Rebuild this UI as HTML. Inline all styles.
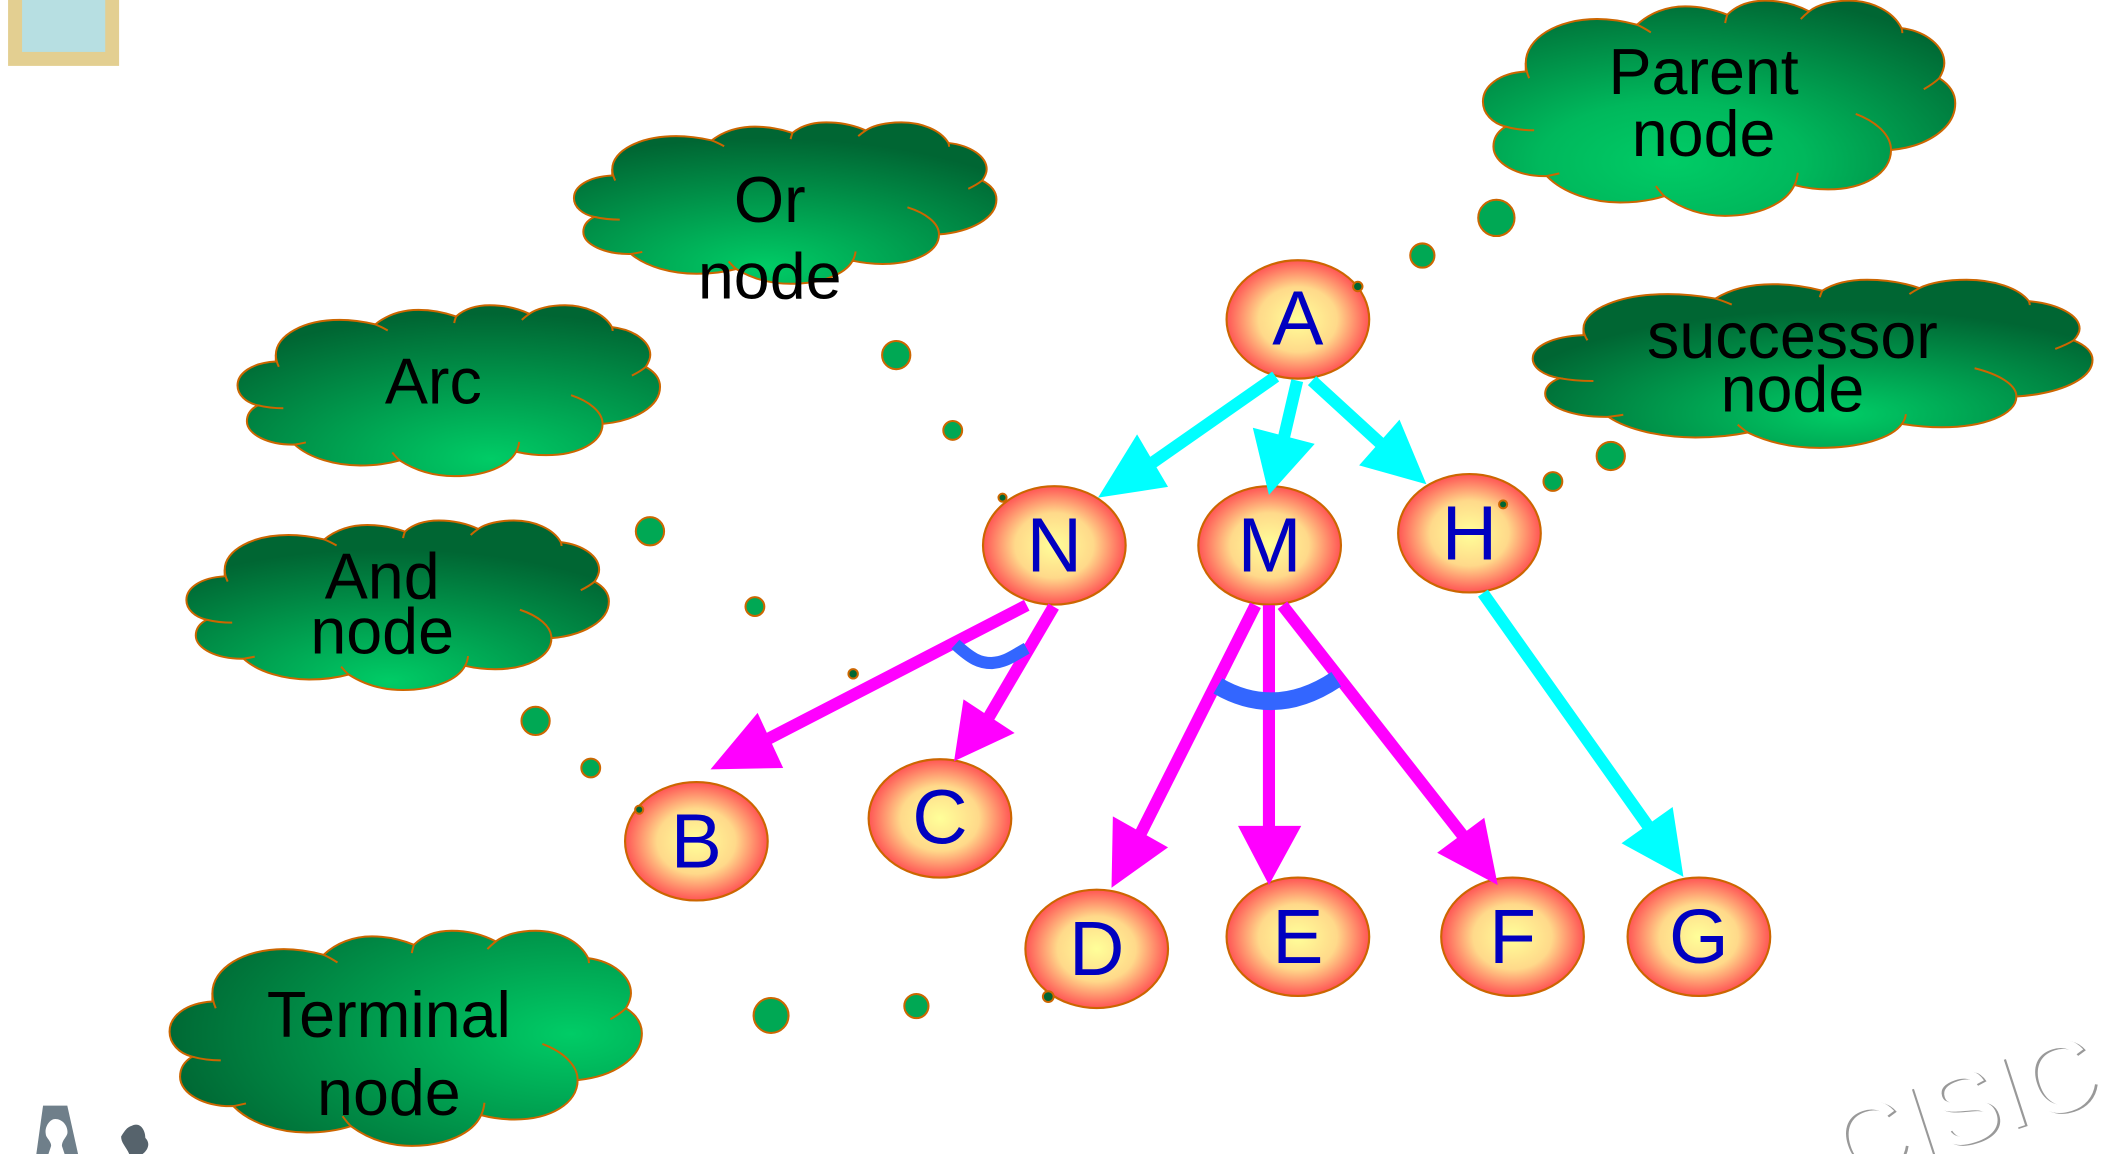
<!DOCTYPE html>
<html><head><meta charset="utf-8"><style>
html,body{margin:0;padding:0;background:#fff;width:2110px;height:1154px;overflow:hidden}
svg{display:block}
text{font-family:"Liberation Sans",sans-serif;text-anchor:middle}
.c{font-size:48px;fill:#000}
.n{font-size:57px;fill:#0000c0}
.o{fill:url(#ng);stroke:#cc6600;stroke-width:1.6}
.d{fill:#00a854;stroke:#cc6600;stroke-width:1.5}
.cy{stroke:#00ffff;stroke-width:9;fill:none}
.mg{stroke:#ff00ff;stroke-width:9;fill:none}
.cyf{fill:#00ffff}.mgf{fill:#ff00ff}
</style></head><body>
<svg width="2110" height="1154" viewBox="0 0 1568 858" preserveAspectRatio="none" xmlns="http://www.w3.org/2000/svg">
<defs>
<radialGradient id="ng" cx=".5" cy=".5" r=".5"><stop offset="0" stop-color="#ffff99"/><stop offset=".55" stop-color="#ffd98a"/><stop offset="1" stop-color="#ff5555"/></radialGradient>
<radialGradient id="g1" cx=".4" cy=".75" r=".8"><stop offset="0" stop-color="#00cc66"/><stop offset=".35" stop-color="#00b85c"/><stop offset="1" stop-color="#006633"/></radialGradient>
<radialGradient id="g2" cx=".55" cy=".8" r=".62"><stop offset="0" stop-color="#00cc66"/><stop offset="1" stop-color="#006633"/></radialGradient>
<radialGradient id="g3" cx=".45" cy=".9" r=".8"><stop offset="0" stop-color="#00cc66"/><stop offset="1" stop-color="#006633"/></radialGradient>
<radialGradient id="g4" cx=".6" cy=".9" r=".85"><stop offset="0" stop-color="#00cc66"/><stop offset="1" stop-color="#006633"/></radialGradient>
<radialGradient id="g5" cx=".48" cy=".95" r=".78"><stop offset="0" stop-color="#00cc66"/><stop offset="1" stop-color="#006633"/></radialGradient>
<radialGradient id="g6" cx=".85" cy=".48" r=".88"><stop offset="0" stop-color="#00cc66"/><stop offset="1" stop-color="#006633"/></radialGradient>
<g id="cl" transform="translate(-78,-3)">
<path vector-effect="non-scaling-stroke" stroke="#cc6600" stroke-width="2" d="M180,215C115,220 78,260 78,305C78,340 100,370 132,380C112,395 103,415 103,440C103,490 160,530 230,528C270,580 340,607 405,607C445,607 480,600 510,588C550,625 600,647 655,647C735,647 800,610 820,555C850,565 875,568 900,568C985,568 1050,520 1050,450C1135,440 1203,385 1203,310C1203,280 1190,255 1165,235C1172,220 1177,205 1177,190C1177,140 1135,95 1075,85C1055,35 1005,3 950,3C910,3 875,15 855,35C825,15 790,3 750,3C710,3 680,20 660,45C630,30 595,20 560,20C515,20 475,40 445,75C415,65 385,58 350,58C255,58 180,115 180,190Z"/>
<path vector-effect="non-scaling-stroke" fill="none" stroke="#cc6600" stroke-width="2" d="M180,190C180,205 183,220 188,235M132,380C155,388 178,391 200,391M230,528C240,526 250,523 260,520M490,558C497,570 503,580 510,588M820,555C825,543 827,530 828,518M1050,450C1050,405 1015,365 966,342M1165,235C1155,247 1142,258 1128,268M1075,85C1076,90 1077,95 1077,100M855,35C848,42 841,50 835,58M660,45C658,53 656,61 655,70M445,75C458,82 468,90 478,98"/>
</g>
</defs>

<rect x="6" y="0" width="82.5" height="49" fill="#e3cf91"/>
<rect x="16.4" y="0" width="61.8" height="38.6" fill="#b7dfe2"/>

<!-- watermark -->
<g transform="translate(1371,880) rotate(-18)">
<text x="1.6" y="1.2" font-size="76" fill="#999" style="text-anchor:start">CISIC</text>
<text x="0" y="0" font-size="76" fill="#fff" style="text-anchor:start">CISIC</text>
</g>

<!-- silhouettes -->
<path d="M32,822H50L58,858H27Z" fill="#6f7f8a"/>
<path d="M41,832C47,832 51,838 50,843C49,846 46,848 46,852L48,858H36L38,852C38,848 34,846 34,843C33,838 37,832 41,832Z" fill="#fff"/>
<path d="M98,837C104,834 108,840 108,846C112,850 110,855 106,858H96C94,853 90,850 90,845C92,842 94,838 98,837Z" fill="#56636c"/>

<!-- clouds -->
<use href="#cl" fill="url(#g1)" transform="translate(1102,.5) scale(.312,.2484)"/>
<use href="#cl" fill="url(#g2)" transform="translate(1139,208) scale(.3698,.1941)"/>
<use href="#cl" fill="url(#g3)" transform="translate(426.5,91) scale(.2791,.1863)"/>
<use href="#cl" fill="url(#g4)" transform="translate(176.5,227) scale(.2791,.1972)"/>
<use href="#cl" fill="url(#g5)" transform="translate(138.5,387) scale(.2791,.1957)"/>
<use href="#cl" fill="url(#g6)" transform="translate(126,692) scale(.312,.2484)"/>

<text class="c" x="1266" y="70">Parent</text>
<text class="c" x="1266" y="116">node</text>
<text class="c" x="1332" y="266">successor</text>
<text class="c" x="1332" y="306">node</text>
<text class="c" x="572" y="165">Or</text>
<text class="c" x="572" y="222">node</text>
<text class="c" x="322" y="300">Arc</text>
<text class="c" x="284" y="445">And</text>
<text class="c" x="284" y="486">node</text>
<text class="c" x="289" y="771">Terminal</text>
<text class="c" x="289" y="829">node</text>

<!-- trail dots -->
<ellipse class="d" cx="1112" cy="162" rx="13.5" ry="13.5"/>
<ellipse class="d" cx="1057" cy="190" rx="9" ry="9"/>
<ellipse class="d" cx="1197" cy="339" rx="10.5" ry="10.5"/>
<ellipse class="d" cx="1154" cy="358" rx="7" ry="7"/>
<ellipse class="d" cx="666" cy="264" rx="10.5" ry="10.5"/>
<ellipse class="d" cx="708" cy="320" rx="7" ry="7"/>
<ellipse class="d" cx="483" cy="395" rx="10.5" ry="10.5"/>
<ellipse class="d" cx="561" cy="451" rx="7" ry="7"/>
<ellipse class="d" cx="634" cy="501" rx="3.5" ry="3.5" style="fill:#006633"/>
<ellipse class="d" cx="398" cy="536" rx="10.5" ry="10.5"/>
<ellipse class="d" cx="439" cy="571" rx="7" ry="7"/>
<ellipse class="d" cx="573" cy="755" rx="13" ry="13"/>
<ellipse class="d" cx="681" cy="748" rx="9" ry="9"/>

<!-- nodes -->
<ellipse class="o" cx="964.5" cy="237.5" rx="53" ry="44"/>
<ellipse class="o" cx="783.5" cy="405.5" rx="53" ry="44"/>
<ellipse class="o" cx="943.5" cy="405.5" rx="53" ry="44"/>
<ellipse class="o" cx="1092" cy="396.5" rx="53" ry="44"/>
<ellipse class="o" cx="517.5" cy="625.5" rx="53" ry="44"/>
<ellipse class="o" cx="698.5" cy="608.5" rx="53" ry="44"/>
<ellipse class="o" cx="815" cy="705.5" rx="53" ry="44"/>
<ellipse class="o" cx="964.5" cy="696.5" rx="53" ry="44"/>
<ellipse class="o" cx="1124" cy="696.5" rx="53" ry="44"/>
<ellipse class="o" cx="1262.5" cy="696.5" rx="53" ry="44"/>

<text class="n" x="964.5" y="256">A</text>
<text class="n" x="783.5" y="425">N</text>
<text class="n" x="943.5" y="425">M</text>
<text class="n" x="1092" y="416">H</text>
<text class="n" x="517.5" y="645">B</text>
<text class="n" x="698.5" y="627">C</text>
<text class="n" x="815" y="725">D</text>
<text class="n" x="964.5" y="716">E</text>
<text class="n" x="1124" y="716">F</text>
<text class="n" x="1262.5" y="716">G</text>

<!-- small dots on nodes -->
<ellipse class="d" cx="1009" cy="213" rx="3.5" ry="3.5" style="fill:#006633"/>
<ellipse class="d" cx="1117" cy="375" rx="3" ry="3" style="fill:#006633"/>
<ellipse class="d" cx="745" cy="370" rx="3" ry="3" style="fill:#006633"/>
<ellipse class="d" cx="475" cy="602" rx="3" ry="3" style="fill:#006633"/>
<ellipse class="d" cx="779" cy="741" rx="4" ry="4" style="fill:#006633"/>

<!-- cyan arrows -->
<path class="cy" d="M948,280L845,352"/><polygon class="cyf" points="816,370 845,323 868,362"/>
<path class="cy" d="M964,283L953,330"/><polygon class="cyf" points="943,368 931,318 977,330"/>
<path class="cy" d="M975,283L1035,338"/><polygon class="cyf" points="1060,360 1040,312 1010,346"/>
<path class="cy" d="M1102,441L1226,616"/><polygon class="cyf" points="1251,652 1243,600 1205,627"/>

<!-- magenta arrows -->
<path class="mg" d="M763,450L560,555"/><polygon class="mgf" points="528,572 563,530 582,571"/>
<path class="mg" d="M783,451L732,538"/><polygon class="mgf" points="709,566 716,520 754,545"/>
<path class="mg" d="M933,450L845,625"/><polygon class="mgf" points="826,660 827,607 868,630"/>
<path class="mg" d="M943,450V620"/><polygon class="mgf" points="943,658 920,614 967,614"/>
<path class="mg" d="M953,450L1090,625"/><polygon class="mgf" points="1113,658 1103,608 1068,634"/>

<!-- blue arcs -->
<path d="M905,510Q948,535 993,505" fill="none" stroke="#3366ff" stroke-width="13"/>
<path d="M710,479C722,490 728,493 737,493C748,492 752,488 763,482" fill="none" stroke="#3366ff" stroke-width="9"/>
</svg>
</body></html>
